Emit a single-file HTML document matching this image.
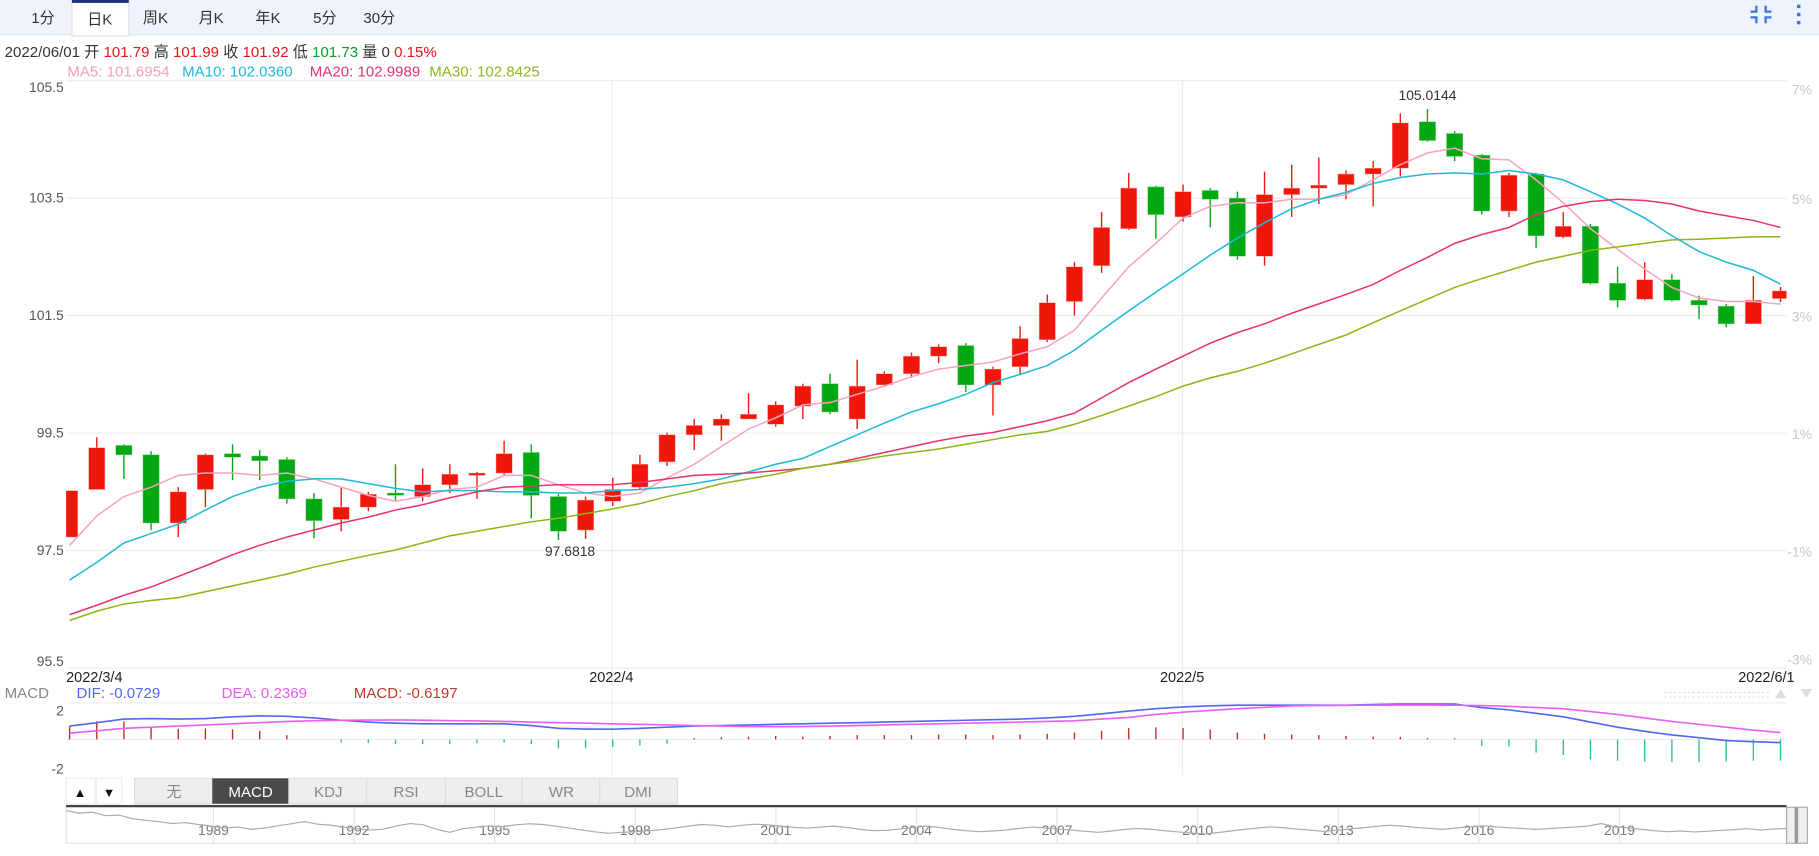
<!DOCTYPE html>
<html><head><meta charset="utf-8">
<style>
html,body{margin:0;padding:0;background:#fff;width:1819px;height:856px;overflow:hidden}
svg{display:block}
text{font-family:"Liberation Sans","Noto Sans CJK SC",sans-serif}
</style></head>
<body>
<svg id="chart" width="1819" height="856" viewBox="0 0 1568 738" preserveAspectRatio="none" xmlns="http://www.w3.org/2000/svg">
  <rect x="0" y="0" width="1568" height="30" fill="#eef3fc"/>
  <line x1="0" y1="30" x2="1568" y2="30" stroke="#dce3ee"/>
  <rect x="62" y="0" width="49" height="31" fill="#fff" stroke="#dce3ee"/>
  <rect x="62" y="0" width="49" height="2.5" fill="#1b2f7a"/>
  <g font-size="13" fill="#333" text-anchor="middle">
    <text x="37" y="20">1分</text>
    <text x="86" y="21">日K</text>
    <text x="134" y="20">周K</text>
    <text x="182" y="20">月K</text>
    <text x="231" y="20">年K</text>
    <text x="280" y="20">5分</text>
    <text x="327" y="20">30分</text>
  </g>
  <g stroke="#3a78d4" stroke-width="2" fill="none">
    <path d="M1514 5v5h-5M1522 5v5h5M1514 20v-5h-5M1522 20v-5h5"/>
  </g>
  <g fill="#3a78d4">
    <rect x="1549" y="4" width="3" height="3"/><rect x="1549" y="11" width="3" height="3"/><rect x="1549" y="18" width="3" height="3"/>
  </g>

  <text x="4" y="49" font-size="13" fill="#333">2022/06/01 开 <tspan fill="#e8141b">101.79</tspan> 高 <tspan fill="#e8141b">101.99</tspan> 收 <tspan fill="#e8141b">101.92</tspan> 低 <tspan fill="#0a9a2a">101.73</tspan> 量 0 <tspan fill="#e8141b">0.15%</tspan></text>
  <g font-size="13">
    <text x="58" y="66" fill="#f6a0bb">MA5: 101.6954</text>
    <text x="157" y="66" fill="#1eb8d8">MA10: 102.0360</text>
    <text x="267" y="66" fill="#e8336b">MA20: 102.9989</text>
    <text x="370" y="66" fill="#8fb51a">MA30: 102.8425</text>
  </g>

  <g id="grid" stroke="#ededed" stroke-width="1"></g>
  <g id="axisL" font-size="12" fill="#555" text-anchor="end"></g>
  <g id="axisR" font-size="12" fill="#c8c8c8" text-anchor="end"></g>
  <defs><clipPath id="cp"><rect x="57" y="70" width="1483" height="506"/></clipPath>
  <clipPath id="cpm"><rect x="57" y="606" width="1483" height="62"/></clipPath></defs>
  <g id="candles" clip-path="url(#cp)"></g>
  <g id="malines" clip-path="url(#cp)" fill="none" stroke-width="1.3"></g>
  <g id="notes" font-size="12" fill="#333" text-anchor="middle"></g>

  <g font-size="12.5" fill="#222">
    <text x="57" y="588">2022/3/4</text>
    <text x="527" y="588" text-anchor="middle">2022/4</text>
    <text x="1019" y="588" text-anchor="middle">2022/5</text>
    <text x="1547" y="588" text-anchor="end">2022/6/1</text>
  </g>
  <line x1="1435" y1="597" x2="1525" y2="597" stroke="#ddd" stroke-dasharray="2,2"/>
  <line x1="1435" y1="601" x2="1525" y2="601" stroke="#ddd" stroke-dasharray="2,2"/>
  <path d="M1530 602l5-8 5 8z" fill="#ddd"/>
  <path d="M1552 594l5 8 5-8z" fill="#ddd"/>

  <g font-size="13">
    <text x="4" y="602" fill="#888">MACD</text>
    <text x="66" y="602" fill="#5566f0">DIF: -0.0729</text>
    <text x="191" y="602" fill="#ea5de8">DEA: 0.2369</text>
    <text x="305" y="602" fill="#c0392b">MACD: -0.6197</text>
  </g>
  <g id="macdAxis" font-size="12" fill="#555" text-anchor="end"></g>
  <g id="macd" clip-path="url(#cpm)"></g>

  <g font-size="13" text-anchor="middle">
    <rect x="57" y="671" width="527" height="22" fill="#fff"/>
    <rect x="57" y="671" width="25" height="22" fill="#fff" stroke="#eee"/>
    <text x="69" y="687" fill="#111" font-size="11">▲</text>
    <rect x="83" y="671" width="22" height="22" fill="#fff" stroke="#eee"/>
    <text x="94" y="687" fill="#111" font-size="11">▼</text>
    <rect x="116" y="671" width="67" height="22" fill="#eee" stroke="#ddd"/>
    <text x="150" y="687" fill="#888">无</text>
    <rect x="183" y="671" width="66" height="22" fill="#4a4a4a"/>
    <text x="216" y="687" fill="#fff">MACD</text>
    <rect x="249" y="671" width="67" height="22" fill="#eee" stroke="#ddd"/>
    <text x="283" y="687" fill="#888">KDJ</text>
    <rect x="316" y="671" width="68" height="22" fill="#eee" stroke="#ddd"/>
    <text x="350" y="687" fill="#888">RSI</text>
    <rect x="384" y="671" width="66" height="22" fill="#eee" stroke="#ddd"/>
    <text x="417" y="687" fill="#888">BOLL</text>
    <rect x="450" y="671" width="67" height="22" fill="#eee" stroke="#ddd"/>
    <text x="484" y="687" fill="#888">WR</text>
    <rect x="517" y="671" width="67" height="22" fill="#eee" stroke="#ddd"/>
    <text x="550" y="687" fill="#888">DMI</text>
  </g>

  <g>
    <rect x="57" y="695" width="1483" height="32" fill="#fff" stroke="#e3e3e3"/>
    <rect x="57" y="694" width="1483" height="2" fill="#444"/>
    <g id="navYears" font-size="12" fill="#777" text-anchor="middle"></g>
    <g id="nav"></g>
    <rect x="1540" y="696" width="18" height="31" fill="#eee" stroke="#aab"/>
    <rect x="1547" y="696" width="3" height="31" fill="#999"/>
  </g>
</svg>
<script>
const NS='http://www.w3.org/2000/svg';
const priceTicks=[105.5,103.5,101.5,99.5,97.5,95.5];
const pctTicks=['7%','5%','3%','1%','-1%','-3%'];
const opens=[97.73,98.54,99.29,99.13,97.97,98.54,99.15,99.11,99.05,98.38,98.03,98.24,98.48,98.42,98.62,98.78,98.82,99.17,98.42,97.85,98.34,98.58,99.01,99.47,99.63,99.74,99.65,99.96,100.34,99.74,100.32,100.51,100.81,100.99,100.32,100.63,101.09,101.74,102.35,102.98,103.69,103.18,103.63,103.50,102.51,103.56,103.67,103.73,103.91,104.01,104.80,104.60,104.23,103.28,103.91,102.84,103.02,102.05,101.78,102.11,101.76,101.66,101.36,101.79];
const highs=[98.52,99.43,99.31,99.19,98.58,99.15,99.31,99.21,99.09,98.48,98.58,98.50,98.97,98.90,98.97,98.84,99.37,99.31,98.46,98.42,98.74,99.13,99.51,99.74,99.82,100.18,100.04,100.34,100.51,100.75,100.55,100.87,101.01,101.03,100.63,101.32,101.86,102.41,103.26,103.93,103.71,103.73,103.67,103.61,103.95,104.07,104.19,103.97,104.13,104.94,105.0144,104.64,104.25,103.93,103.93,103.26,103.06,102.33,102.41,102.21,101.84,101.70,102.17,101.99];
const lows=[97.73,98.54,98.72,97.85,97.73,98.24,98.70,98.70,98.30,97.71,97.83,98.17,98.34,98.34,98.48,98.38,98.78,98.05,97.6818,97.70,98.26,98.54,98.94,99.21,99.37,99.74,99.61,99.74,99.82,99.57,100.30,100.44,100.69,100.20,99.80,100.50,101.05,101.50,102.23,102.96,102.81,103.10,103.00,102.45,102.35,103.18,103.40,103.48,103.36,103.87,104.46,104.13,103.22,103.18,102.65,102.82,102.03,101.64,101.76,101.74,101.44,101.30,101.36,101.73];
const closes=[98.52,99.25,99.13,97.97,98.50,99.13,99.09,99.03,98.38,98.01,98.24,98.46,98.44,98.62,98.80,98.82,99.15,98.44,97.83,98.36,98.54,98.97,99.47,99.63,99.74,99.82,99.98,100.30,99.86,100.30,100.51,100.81,100.97,100.32,100.59,101.11,101.72,102.33,103.00,103.67,103.22,103.61,103.48,102.51,103.56,103.67,103.72,103.91,104.01,104.78,104.48,104.21,103.28,103.89,102.86,103.02,102.05,101.76,102.11,101.76,101.68,101.36,101.76,101.92];
const ma5=[97.59,98.09,98.42,98.58,98.78,98.82,98.82,98.78,98.82,98.72,98.58,98.44,98.34,98.42,98.54,98.58,98.78,98.78,98.62,98.48,98.42,98.48,98.74,98.97,99.27,99.57,99.76,99.98,100.02,100.16,100.30,100.46,100.59,100.65,100.71,100.85,100.97,101.25,101.80,102.33,102.73,103.16,103.36,103.42,103.42,103.48,103.48,103.56,103.81,104.07,104.27,104.35,104.17,104.15,103.81,103.42,102.98,102.63,102.29,101.98,101.80,101.74,101.74,101.6954];
const ma10=[97.00,97.30,97.63,97.79,97.95,98.19,98.42,98.58,98.68,98.72,98.72,98.64,98.56,98.50,98.52,98.52,98.50,98.50,98.48,98.48,98.52,98.54,98.58,98.64,98.72,98.84,98.97,99.07,99.27,99.47,99.67,99.86,100.00,100.16,100.36,100.50,100.65,100.91,101.25,101.58,101.90,102.21,102.53,102.82,103.08,103.32,103.48,103.60,103.75,103.85,103.91,103.93,103.91,103.97,103.91,103.81,103.61,103.40,103.16,102.86,102.59,102.41,102.27,102.036];
const ma20=[96.41,96.57,96.74,96.88,97.06,97.24,97.43,97.59,97.73,97.85,97.97,98.07,98.19,98.28,98.40,98.50,98.58,98.60,98.62,98.62,98.62,98.66,98.72,98.78,98.80,98.82,98.86,98.90,98.97,99.07,99.17,99.27,99.37,99.45,99.51,99.61,99.71,99.84,100.10,100.36,100.59,100.81,101.03,101.21,101.36,101.54,101.70,101.86,102.03,102.27,102.49,102.73,102.88,103.00,103.22,103.36,103.44,103.48,103.46,103.40,103.28,103.20,103.12,102.9989];
const ma30=[96.31,96.47,96.59,96.65,96.70,96.80,96.90,97.00,97.10,97.22,97.32,97.42,97.51,97.63,97.75,97.83,97.91,97.99,98.05,98.13,98.21,98.30,98.42,98.52,98.64,98.72,98.80,98.90,98.97,99.03,99.11,99.17,99.23,99.31,99.39,99.47,99.53,99.65,99.80,99.96,100.12,100.30,100.44,100.55,100.69,100.85,101.01,101.17,101.38,101.58,101.78,101.98,102.13,102.27,102.41,102.51,102.61,102.67,102.73,102.79,102.80,102.82,102.84,102.8425];
const dif=[0.94,1.18,1.43,1.47,1.43,1.47,1.59,1.66,1.63,1.51,1.35,1.22,1.14,1.10,1.10,1.10,1.10,0.98,0.78,0.73,0.72,0.78,0.86,0.94,0.98,1.02,1.06,1.10,1.14,1.18,1.22,1.27,1.31,1.35,1.39,1.43,1.51,1.63,1.80,2.00,2.16,2.29,2.37,2.41,2.41,2.41,2.41,2.41,2.45,2.49,2.49,2.49,2.24,2.08,1.84,1.59,1.22,0.86,0.57,0.32,0.12,-0.08,-0.16,-0.22];
const dea=[0.45,0.61,0.78,0.86,0.94,1.02,1.10,1.18,1.27,1.31,1.35,1.36,1.37,1.35,1.32,1.30,1.27,1.22,1.18,1.14,1.10,1.06,1.02,0.98,0.94,0.91,0.90,0.91,0.94,0.98,1.02,1.06,1.10,1.14,1.18,1.22,1.27,1.31,1.43,1.55,1.76,1.92,2.04,2.16,2.26,2.36,2.38,2.40,2.41,2.42,2.42,2.41,2.38,2.33,2.24,2.16,1.96,1.76,1.51,1.27,1.06,0.86,0.65,0.48];
const macdHist=[0.91,1.27,1.27,0.91,0.74,0.78,0.72,0.60,0.29,0,-0.22,-0.26,-0.33,-0.33,-0.33,-0.26,-0.22,-0.33,-0.64,-0.61,-0.53,-0.42,-0.30,0.10,0.15,0.20,0.25,0.20,0.25,0.30,0.30,0.30,0.35,0.35,0.30,0.35,0.40,0.50,0.60,0.80,0.85,0.80,0.70,0.50,0.40,0.35,0.30,0.25,0.20,0.18,0.10,0.08,-0.45,-0.50,-0.93,-1.10,-1.40,-1.50,-1.55,-1.60,-1.60,-1.55,-1.50,-1.50];
const macdTicks=[2,-2];
const navYearsLbl=['1989','1992','1995','1998','2001','2004','2007','2010','2013','2016','2019'];
const navVals=[9.0,8.2,8.5,7.4,7.6,6.5,6.0,5.6,5.0,5.3,4.7,4.2,3.6,3.9,3.2,3.6,4.3,4.9,5.6,4.8,4.5,3.9,3.4,3.0,3.3,4.3,5.0,4.6,3.2,2.3,3.4,3.9,4.3,4.0,4.6,4.9,4.7,4.2,3.6,3.0,2.4,2.0,2.3,2.5,2.8,3.1,3.6,4.2,4.7,4.5,4.0,4.4,4.8,4.6,4.2,3.8,3.6,3.9,4.2,3.8,3.2,2.8,2.9,3.3,3.8,4.2,3.8,3.2,2.8,2.5,2.7,3.0,3.5,3.9,3.6,3.3,3.0,2.6,2.3,2.7,3.2,3.5,3.2,2.8,2.4,2.1,1.8,2.2,2.7,3.2,3.6,4.0,3.7,3.3,3.0,2.6,2.9,3.3,3.7,4.1,4.5,4.2,3.8,3.5,3.2,3.6,4.0,4.3,4.0,3.7,3.5,3.2,3.4,3.7,3.9,4.2,5.0,4.0,3.7,3.2,2.8,2.5,2.7,2.4,2.6,2.9,3.1,3.4,3.0,3.3,3.5];
const X0=60, DX=23.41, PL=57, PR=1540;
const xOf=i=>X0+i*DX;
const yP=p=>576-(p-95.5)*50.65;
const yM=v=>637.5-v*12.25;
function mk(tag,attrs,parent){const e=document.createElementNS(NS,tag);for(const k in attrs)e.setAttribute(k,attrs[k]);parent.appendChild(e);return e;}
const $=id=>document.getElementById(id);
const grid=$('grid');
priceTicks.forEach((p,k)=>{
  const y=yP(p);
  const l=mk('line',{x1:PL,x2:PR,y1:y,y2:y},grid);
  
  
  const ty=k===0?y+10:(k===priceTicks.length-1?y-2:y+4);
  const t=mk('text',{x:55,y:ty},$('axisL'));t.textContent=p.toFixed(1);
  
  
  const t2=mk('text',{x:1562,y:k===0?y+12:(k===priceTicks.length-1?y-3:y+5)},$('axisR'));t2.textContent=pctTicks[k];
  
  
});
[20,41].forEach(i=>{const l=mk('line',{x1:xOf(i)-0.5,x2:xOf(i)-0.5,y1:70,y2:668},grid);
  
  });
mk('line',{x1:PL,x2:PR,y1:606,y2:606},grid);
mk('line',{x1:PL,x2:PR,y1:yM(0),y2:yM(0)},grid);
const cg=$('candles');
opens.forEach((o,i)=>{
  const c=closes[i],up=c>=o,col=up?'#f1160b':'#00a812';
  const x=xOf(i);
  const g=mk('g',{},cg);
  
  
  mk('line',{x1:x,x2:x,y1:yP(highs[i]),y2:yP(lows[i]),stroke:col,'stroke-width':1.2},g);
  const t=yP(Math.max(o,c)),b=yP(Math.min(o,c));
  mk('rect',{x:x-7,y:t,width:14,height:Math.max(1.5,b-t),fill:col,stroke:up?'#f8a0a0':'#80cc80','stroke-width':0.4},g);
});
const mg=$('malines');
[[ma5,'#f7a3bd','ma5-line'],[ma10,'#1fbad8','ma10-line'],[ma20,'#e8336b','ma20-line'],[ma30,'#8db514','ma30-line']].forEach(([arr,col,nm])=>{
  const p=mk('polyline',{points:arr.map((v,i)=>xOf(i)+','+yP(v)).join(' '),stroke:col},mg);
  
  
});
let hi=0,lo=0;highs.forEach((v,i)=>{if(v>highs[hi])hi=i;});lows.forEach((v,i)=>{if(v<lows[lo])lo=i;});
const th=mk('text',{x:xOf(hi),y:yP(highs[hi])-8},$('notes'));th.textContent=highs[hi].toFixed(4);


const tl=mk('text',{x:xOf(lo)+10,y:yP(lows[lo])+14},$('notes'));tl.textContent=lows[lo].toFixed(4);


macdTicks.forEach(v=>{const t=mk('text',{x:55,y:v>0?yM(v)+4:yM(v)+5},$('macdAxis'));t.textContent=v;
  
  });
const mc=$('macd');
macdHist.forEach((v,i)=>{
  const l=mk('line',{x1:xOf(i),x2:xOf(i),y1:yM(0),y2:yM(v),stroke:v>=0?'#c0301e':'#2ec48d','stroke-width':1.2},mc);
  
  
});
const pd=mk('polyline',{points:dif.map((v,i)=>xOf(i)+','+yM(v)).join(' '),fill:'none',stroke:'#5465f2','stroke-width':1.4},mc);


const pe=mk('polyline',{points:dea.map((v,i)=>xOf(i)+','+yM(v)).join(' '),fill:'none',stroke:'#ec5ff0','stroke-width':1.4},mc);


const ny=$('navYears');
navYearsLbl.forEach((y,k)=>{const x=184+k*121.2;
  mk('line',{x1:x,x2:x,y1:696,y2:727,stroke:'#e3e3e3'},ny);
  const t=mk('text',{x:x,y:720},ny);t.textContent=y;
  
  });
const nstep=(PR-PL)/(navVals.length-1);
const np=mk('polyline',{points:navVals.map((v,i)=>(PL+i*nstep)+','+(724-v*2.8)).join(' '),fill:'none',stroke:'#aaa','stroke-width':1},$('nav'));


</script>
</body></html>
